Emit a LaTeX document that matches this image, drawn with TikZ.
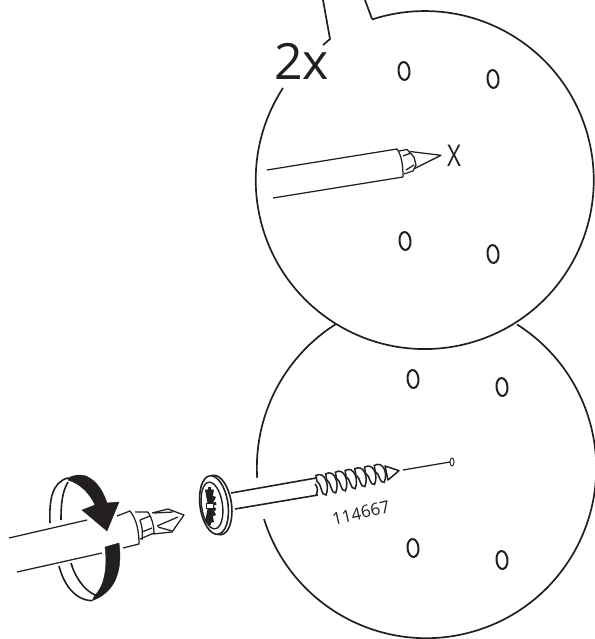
\documentclass[tikz,border=0pt]{standalone}
\usepackage{fontspec}
\setmainfont{Open Sans}
\usepackage{xcolor}
\usepackage{tikz}
\usetikzlibrary{positioning, calc}
\definecolor{myink}{RGB}{35,31,32}
\tikzset{
  outline/.style={line width=1.7pt, color=myink},
  thinline/.style={line width=1.25pt, color=myink, line join=round},
  ringline/.style={line width=1.6pt, color=myink},
  holeline/.style={line width=2pt, color=myink},
  solidband/.style={fill=myink, draw=myink, line width=0.4pt, line join=round},
  coil/.style={draw=myink, fill=white, line width=1.5pt},
  bigtext/.style={inner sep=0pt, text=myink, font=\fontsize{50}{50}\selectfont},
  partno/.style={inner sep=0pt, text=myink, font=\fontsize{17}{18}\selectfont}
}
\begin{document}
\begin{tikzpicture}[x=1pt, y=1pt, yscale=-1]
  \useasboundingbox (0,0) rectangle (594,639);

  % Upper callout
  \draw[outline] (283,88) arc[start angle=213, end angle=-108.2, radius=169];
  \draw[outline] (372,19) -- (365,0);
  \draw[outline] (323,0) -- (330,39) -- (323,45);
  \node[bigtext] (count) at (301.5,61) {2x};

  % Lower callout
  \draw[outline] (336,324) arc[start angle=237.7, end angle=176.6, radius=170];
  \draw[outline] (264,519) arc[start angle=162.6, end angle=-57.7, radius=170];

  % Holes
  \foreach \hx/\hy in {404/71, 493/79, 405/241, 493/254, 413/379, 502/387, 413/548, 502/560}
    \draw[holeline, rotate around={-5:(\hx,\hy)}] (\hx,\hy) ellipse[x radius=5.5, y radius=9];

  % Upper driver
  \draw[thinline] (267,170) -- (397,149) .. controls (402,156) and (403,167) .. (403,177) -- (273,198);
  \draw[thinline] (399,151) -- (407,149.5) -- (414,157) -- (416,165) -- (413,171) -- (404,174);
  \draw[thinline] (403,156) -- (411,153) (406,170) -- (414,165);
  \draw[thinline] (410,151.5) -- (441,155.3) -- (415,168.3);
  \node[text=myink, inner sep=0pt, font=\fontsize{30}{30}\selectfont] (mark) at (454,156) {\scalebox{0.8}[1]{X}};

  % Lower driver
  \draw[thinline] (9,538) -- (87,520);
  \draw[thinline] (117,516) -- (130,511) .. controls (137,520) and (139,532) .. (139,544) -- (123,548);
  \draw[thinline] (17,572) -- (102,553);
  \draw[thinline] (135,512) -- (148,512) .. controls (152,518) and (154,526) .. (154,533) -- (140,539);
  \draw[thinline] (140,520) -- (150,516) (142,540) .. controls (143,532) and (142,526) .. (140,520) (152,528) -- (142,532);
  \draw[thinline] (152,513) -- (168,509) -- (184,515) -- (172,532) -- (153,534);
  \draw[thinline] (157,526) -- (178,517) (154,513) -- (173,512) (158,527) -- (172,531);

  % Turning arrow
  \draw[ringline] (50,523) .. controls (49,500) and (52,482) .. (68,478);
  \draw[ringline] (61,520) .. controls (61,505) and (62,492) .. (68,482);
  \fill[solidband] (68,478) .. controls (74,475) and (80,474) .. (86,476)
    .. controls (97,481) and (103,491) .. (107,503) -- (119,502) -- (107,531) -- (82,510) -- (95,505)
    .. controls (90,494) and (81,484) .. (68,480) -- cycle;
  \fill[solidband] (105,547) -- (119,543) .. controls (122,565) and (119,591) .. (92,600.7)
    -- (95,595) .. controls (103,588) and (108,570) .. (105,547) -- cycle;
  \draw[ringline] (59,566) .. controls (64,585) and (75,600) .. (92,600.7);
  \draw[ringline] (71,563) .. controls (75,577) and (84,590) .. (95,595);

  % Screw head
  \draw[thinline, line width=1.6pt, fill=white, rotate around={-8:(217,505)}] (217,505) ellipse[x radius=14.5, y radius=30];
  \draw[thinline, line width=1.6pt, fill=white, rotate around={-8:(214,505)}] (214,505) ellipse[x radius=14, y radius=29.5];
  \draw[thinline, line width=1.4pt, rotate around={-8:(212,505.5)}] (212,505.5) ellipse[x radius=10.5, y radius=23.5];
  \foreach \ang in {-90,-60,-30,30,60,90,120,240}
    \draw[line width=3pt, color=myink] (209.5,506) -- ++({6*cos(\ang)},{19*sin(\ang)});
  \draw[line width=3pt, color=myink] (209.5,506) -- ++(6.5,-3) (209.5,506) -- ++(6,4);
  \fill[white, draw=myink, line width=0.8pt] (206,503) rectangle (213,508.5);

  % Screw shank and thread
  \draw[thinline, line width=1.6pt] (231,493) -- (316,478);
  \draw[thinline, line width=1.6pt] (235,509) -- (318,495);
  \draw[thinline, line width=1.6pt] (315,484) .. controls (318,487) and (318,491) .. (316,495);
  \draw[thinline, line width=1.5pt, fill=white] (385,466) -- (399,470.7) -- (388,480) -- cycle;
  \foreach \i in {6,5,...,0} {
    \pgfmathsetmacro{\cx}{316+9.7*\i}
    \pgfmathsetmacro{\ct}{475.5-1.67*\i}
    \pgfmathsetmacro{\cb}{495-2.1*\i}
    \draw[coil] (\cx,\ct) .. controls ({\cx+9},{\ct-5}) and ({\cx+14},{\cb-9}) .. ({\cx+10},\cb)
      .. controls ({\cx+5},{\cb+1}) and ({\cx+6},{\ct+9}) .. ({\cx+1},{\ct+6}) -- cycle;
  }
  \node[partno, rotate=13] (partno) at (361,513) {114667};

  % Pilot line
  \draw[thinline] (403,470) -- (450,462);
  \draw[line width=0.9pt, color=myink] (452,462) ellipse[x radius=2, y radius=4];
\end{tikzpicture}
\end{document}
